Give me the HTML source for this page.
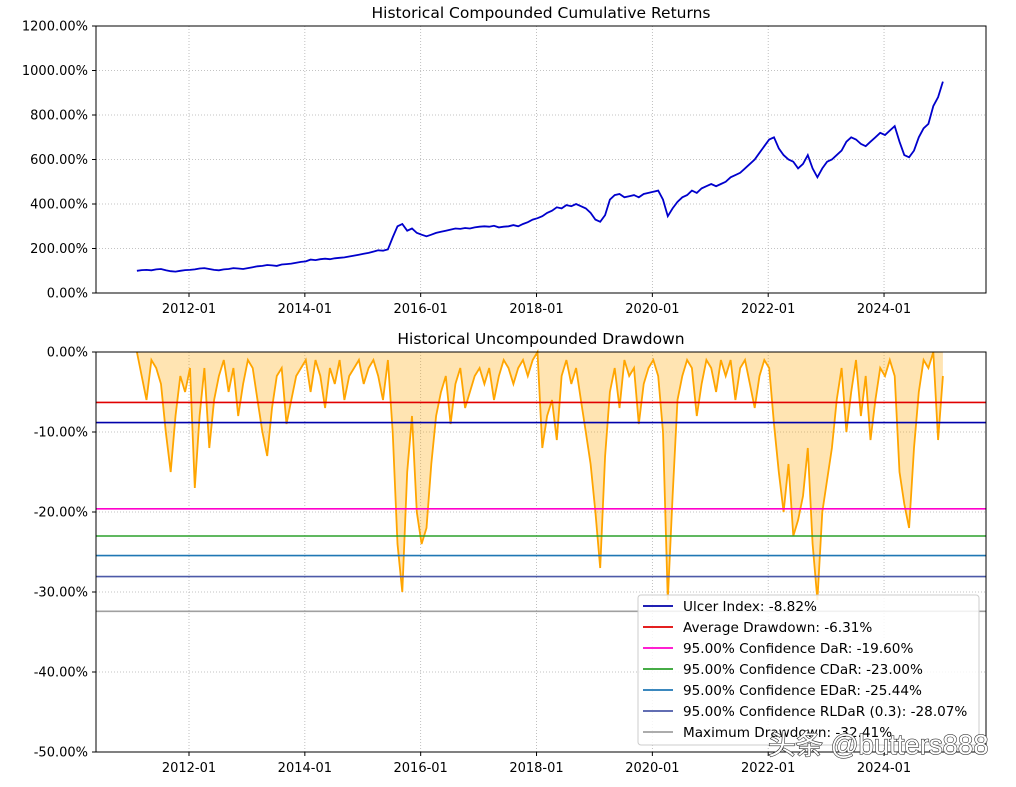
<!DOCTYPE html>
<html><head><meta charset="utf-8"><style>
body{margin:0;background:#fff}
svg text{font-family:"DejaVu Sans","Liberation Sans",sans-serif;font-size:13px;fill:#000}
</style></head><body>
<svg id="c" width="1016" height="782" xmlns="http://www.w3.org/2000/svg"></svg>
<script>
const cumulative=[100,103,104,102,106,108,102,98,96,100,103,104,
106,110,112,108,104,102,106,108,112,110,108,112,
116,120,122,126,124,122,128,130,132,136,140,142,
150,148,152,154,152,156,158,160,164,168,172,176,
180,186,192,190,196,250,300,310,280,290,270,262,
255,262,270,275,280,285,290,288,292,290,295,298,
300,298,302,295,298,300,305,300,310,318,330,336,
345,360,370,385,380,395,390,400,390,380,360,330,
320,350,420,440,445,430,435,440,430,445,450,455,
460,420,345,380,410,430,440,460,450,470,480,490,
480,490,500,520,530,540,560,580,600,630,660,690,
700,650,620,600,590,560,580,620,560,520,560,590,
600,620,640,680,700,690,670,660,680,700,720,710,
730,750,680,620,610,640,700,740,760,840,880,950];
const drawdown=[0,-3,-6,-1,-2,-4,-10,-15,-8,-3,-5,-2,
-17,-8,-2,-12,-6,-3,-1,-5,-2,-8,-4,-1,
-2,-6,-10,-13,-7,-3,-2,-9,-6,-3,-2,-1,
-5,-1,-3,-7,-2,-4,-1,-6,-3,-2,-1,-4,
-2,-1,-3,-6,-1,-10,-24,-30,-15,-8,-20,-24,
-22,-14,-8,-5,-3,-9,-4,-2,-7,-5,-3,-2,
-4,-2,-6,-3,-1,-2,-4,-2,-1,-3,-1,0,
-12,-8,-6,-11,-3,-1,-4,-2,-6,-10,-14,-20,
-27,-13,-5,-2,-7,-1,-3,-2,-9,-4,-2,-1,
-3,-10,-31,-18,-6,-3,-1,-2,-8,-4,-1,-2,
-5,-1,-3,-1,-6,-2,-1,-4,-7,-3,-1,-2,
-9,-15,-20,-14,-23,-21,-18,-12,-24,-31,-20,-16,
-12,-6,-2,-10,-5,-1,-8,-3,-11,-6,-2,-3,
-1,-3,-15,-19,-22,-12,-5,-1,-2,0,-11,-3];
const xTickYears=[2012,2014,2016,2018,2020,2022,2024];
const topTicks=[0,200,400,600,800,1000,1200];
const botTicks=[0,-10,-20,-30,-40,-50];
const riskNames=["Ulcer Index: -8.82%","Average Drawdown: -6.31%","95.00% Confidence DaR: -19.60%","95.00% Confidence CDaR: -23.00%","95.00% Confidence EDaR: -25.44%","95.00% Confidence RLDaR (0.3): -28.07%","Maximum Drawdown: -32.41%"];
const riskValues=[-8.82,-6.31,-19.60,-23.00,-25.44,-28.07,-32.41];
const riskColors=["#0000aa","#e00000","#ff00cc","#2ca02c","#1f77b4","#4c5aa8","#a0a0a0"];

const svg=document.getElementById('c');const NS="http://www.w3.org/2000/svg";
function mk(t,a,p){const e=document.createElementNS(NS,t);for(const k in a)e.setAttribute(k,a[k]);(p||svg).appendChild(e);return e;}
const L=96,R=986;
const xs=t=>189+(t-2012)*57.92;
const yTop=v=>293-v*(267/1200);
const yBot=v=>352-v*8;
const tOf=i=>2011.1+i/12;
// top axes
const g1=mk('g',{});
topTicks.forEach(v=>{const y=yTop(v);mk('line',{x1:L,x2:R,y1:y,y2:y,stroke:'#b0b0b0','stroke-dasharray':'1,2','stroke-width':0.8},g1);mk('line',{x1:L-4,x2:L,y1:y,y2:y,stroke:'#000'},g1);const t=mk('text',{x:L-8,y:y+4.5,'text-anchor':'end'},g1);t.textContent=v.toFixed(2)+'%';});
xTickYears.forEach(yr=>{const x=xs(yr);mk('line',{x1:x,x2:x,y1:26,y2:293,stroke:'#b0b0b0','stroke-dasharray':'1,2','stroke-width':0.8},g1);mk('line',{x1:x,x2:x,y1:293,y2:297,stroke:'#000'},g1);const t=mk('text',{x:x,y:313,'text-anchor':'middle'},g1);t.textContent=yr+'-01';});
let d='';cumulative.forEach((v,i)=>{d+=(i?'L':'M')+xs(tOf(i)).toFixed(1)+','+yTop(v).toFixed(1);});
const p1=mk('path',{d:d,fill:'none',stroke:'#0000cc','stroke-width':1.8},g1);


mk('rect',{x:L,y:26,width:R-L,height:267,fill:'none',stroke:'#000','stroke-width':1},g1);
const tt1=mk('text',{x:541,y:18,'text-anchor':'middle',style:'font-size:15.5px'},g1);tt1.textContent='Historical Compounded Cumulative Returns';

// bottom axes
const g2=mk('g',{});
botTicks.forEach(v=>{const y=yBot(v);mk('line',{x1:L,x2:R,y1:y,y2:y,stroke:'#b0b0b0','stroke-dasharray':'1,2','stroke-width':0.8},g2);mk('line',{x1:L-4,x2:L,y1:y,y2:y,stroke:'#000'},g2);const t=mk('text',{x:L-8,y:y+4.5,'text-anchor':'end'},g2);t.textContent=v.toFixed(2)+'%';});
xTickYears.forEach(yr=>{const x=xs(yr);mk('line',{x1:x,x2:x,y1:352,y2:752,stroke:'#b0b0b0','stroke-dasharray':'1,2','stroke-width':0.8},g2);mk('line',{x1:x,x2:x,y1:752,y2:756,stroke:'#000'},g2);const t=mk('text',{x:x,y:772,'text-anchor':'middle'},g2);t.textContent=yr+'-01';});
let d2='';drawdown.forEach((v,i)=>{d2+=(i?'L':'M')+xs(tOf(i)).toFixed(1)+','+yBot(v).toFixed(1);});
const x0=xs(tOf(0)),x1=xs(tOf(drawdown.length-1));
const fa=mk('path',{d:d2+'L'+x1+','+yBot(0)+'L'+x0+','+yBot(0)+'Z',fill:'#ffa500','fill-opacity':0.3,stroke:'none'},g2);

const p2=mk('path',{d:d2,fill:'none',stroke:'#ffa500','stroke-width':1.8},g2);

riskValues.forEach((v,i)=>{const y=yBot(v);const ln=mk('line',{x1:L,x2:R,y1:y,y2:y,stroke:riskColors[i],'stroke-width':1.6},g2);
});
mk('rect',{x:L,y:352,width:R-L,height:400,fill:'none',stroke:'#000','stroke-width':1},g2);
const tt2=mk('text',{x:541,y:344,'text-anchor':'middle',style:'font-size:15.5px'},g2);tt2.textContent='Historical Uncompounded Drawdown';

// legend
const lg=mk('g',{});
mk('rect',{x:638,y:595,width:341,height:150,rx:3,fill:'#fff','fill-opacity':0.85,stroke:'#cccccc'},lg);
riskNames.forEach((n,i)=>{const y=606+i*21;mk('line',{x1:643,x2:673,y1:y,y2:y,stroke:riskColors[i],'stroke-width':1.8},lg);const t=mk('text',{x:683,y:y+5,style:'font-size:13.6px'},lg);t.textContent=n;
});
const wm=mk('text',{x:768,y:754,style:'font-size:27.5px;fill:#fff;stroke:#333;stroke-width:1.2;paint-order:stroke;font-family:"Liberation Sans","Noto Sans CJK SC",sans-serif'});
wm.textContent='头条 @butters888';

</script>
</body></html>
